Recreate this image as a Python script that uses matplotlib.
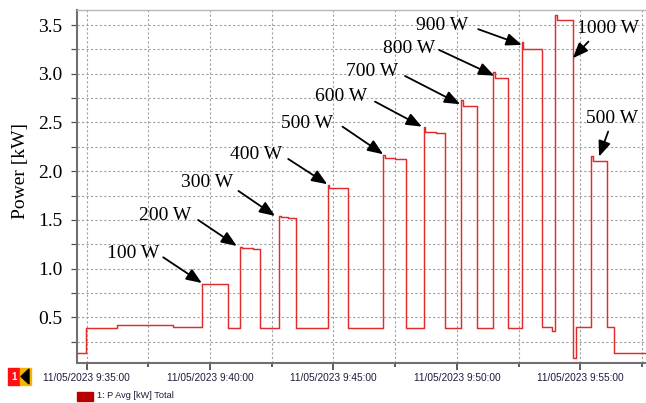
import matplotlib
matplotlib.use('Agg')
import matplotlib.pyplot as plt
import matplotlib.dates as mdates
from matplotlib.ticker import MultipleLocator, AutoMinorLocator, FuncFormatter
from matplotlib.patches import Rectangle, Polygon
import pandas as pd

day = "2023-05-11 "

# 1: P Avg [kW] Total -- step changes
times = ["09:34:30", "09:34:58", "09:36:14", "09:38:30",
         "09:39:40", "09:40:43",
         "09:41:13", "09:41:17", "09:41:45", "09:42:01",
         "09:42:48", "09:42:52", "09:43:10", "09:43:29",
         "09:44:46", "09:44:50", "09:45:35",
         "09:47:01", "09:47:05", "09:47:30", "09:47:56",
         "09:48:39", "09:48:43", "09:49:10", "09:49:31",
         "09:50:10", "09:50:14", "09:50:50",
         "09:51:29", "09:51:33", "09:52:05",
         "09:52:38", "09:52:42", "09:53:27", "09:53:52",
         "09:53:59", "09:54:03", "09:54:42", "09:54:49",
         "09:55:26", "09:55:30", "09:56:05", "09:56:21", "09:57:50"]
power = [0.13, 0.39, 0.42, 0.40,
         0.845, 0.39,
         1.22, 1.21, 1.20, 0.39,
         1.54, 1.53, 1.515, 0.39,
         1.86, 1.83, 0.39,
         2.17, 2.13, 2.12, 0.39,
         2.45, 2.40, 2.39, 0.39,
         2.73, 2.665, 0.39,
         3.02, 2.955, 0.39,
         3.33, 3.255, 0.40, 0.36,
         3.60, 3.55, 0.08, 0.40,
         2.16, 2.10, 0.40, 0.13, 0.13]

# annotations: label, text centre, arrow tail, arrow tip
labels = ["100 W", "200 W", "300 W", "400 W", "500 W", "600 W",
          "700 W", "800 W", "900 W", "1000 W", "500 W"]
label_t = ["09:36:53", "09:38:10", "09:39:52", "09:41:51", "09:43:56", "09:45:18",
           "09:46:34", "09:48:03", "09:49:25", "09:56:07", "09:56:17"]
label_v = [1.157, 1.54, 1.882, 2.174, 2.49, 2.765, 3.02, 3.26, 3.50, 3.467, 2.543]
tail_t = ["09:38:06", "09:39:31", "09:41:09", "09:43:10", "09:45:22", "09:46:41",
          "09:47:54", "09:49:17", "09:50:52", "09:55:20", "09:56:08"]
tail_v = [1.116, 1.499, 1.797, 2.125, 2.457, 2.714, 2.977, 3.244, 3.457, 3.33, 2.406]
tip_t = ["09:39:40", "09:41:05", "09:42:38", "09:44:45", "09:47:01", "09:48:35",
         "09:50:08", "09:51:31", "09:52:38", "09:54:42", "09:55:46"]
tip_v = [0.852, 1.232, 1.54, 1.866, 2.173, 2.457, 2.687, 2.98, 3.296, 3.159, 2.149]


def ts(t):
    return pd.to_datetime(day + t)


x = pd.to_datetime([day + t for t in times])

fig = plt.figure(figsize=(6.46, 4.03), dpi=100)
ax = fig.add_axes([76.7 / 646, 1 - 362.5 / 403, 1 - 76.7 / 646, (362.5 - 10) / 403])

ax.plot(x, power, drawstyle='steps-post', color='#e02c2c', lw=1.05, zorder=3)

for lab, lt, lv, at, av, pt, pv in zip(labels, label_t, label_v, tail_t, tail_v, tip_t, tip_v):
    ax.text(ts(lt), lv, lab, ha='center', va='center', fontsize=14,
            family='Liberation Serif', zorder=5)
    ax.annotate('', xy=(ts(pt), pv), xytext=(ts(at), av),
                arrowprops=dict(arrowstyle='-|>,head_length=0.55,head_width=0.22',
                                mutation_scale=17, lw=1.3, color='black',
                                shrinkA=0, shrinkB=0), zorder=5)

ax.set_xlim(ts("09:34:35.7"), ts("09:57:40"))
ax.set_ylim(0.036, 3.654)

ax.xaxis.set_major_locator(mdates.MinuteLocator(byminute=range(0, 60, 5)))
ax.xaxis.set_minor_locator(AutoMinorLocator(2))


def fmt(v, pos):
    d = mdates.num2date(v)
    return d.strftime('%d/%m/%Y ') + str(d.hour) + d.strftime(':%M:%S')


ax.xaxis.set_major_formatter(FuncFormatter(fmt))
ax.yaxis.set_major_locator(MultipleLocator(0.5))
ax.yaxis.set_minor_locator(MultipleLocator(0.25))
ax.yaxis.set_major_formatter(FuncFormatter(lambda v, p: f"{v:.1f}"))

grid_kw = dict(color='#a0a0a0', linestyle=(0, (2, 2)), lw=0.8)
ax.grid(True, which='both', **grid_kw)

ax.tick_params(axis='x', which='major', direction='out', length=5, width=1.2,
               color='#404040', pad=2.5, labelsize=7.3, labelcolor='#1c1c3c')
ax.tick_params(axis='x', which='minor', direction='out', length=3, width=1.2, color='#404040')
ax.tick_params(axis='y', which='both', direction='out', length=4, width=0.9,
               color='#505050', pad=6.3, labelsize=14)
for lab in ax.get_xticklabels():
    lab.set_family('Liberation Sans')
for lab in ax.get_yticklabels():
    lab.set_family('Liberation Serif')

ax.set_ylabel('Power [kW]', fontsize=14, family='Liberation Serif')
ax.yaxis.set_label_coords(-0.083, 0.543)

for s in ('left', 'bottom'):
    ax.spines[s].set_color('#707070')
    ax.spines[s].set_linewidth(1.5)
ax.spines['top'].set_color('#b8b8b8')
ax.spines['top'].set_linewidth(1.0)
ax.spines['right'].set_visible(False)

# channel marker and legend below the axis
W, H = 646, 403
fig.patches.append(Rectangle((8 / W, 1 - 385 / H), 12 / W, 17 / H, color='#ff1010',
                             transform=fig.transFigure, figure=fig))
fig.patches.append(Rectangle((20 / W, 1 - 385 / H), 11 / W, 17 / H, color='#f5b400',
                             transform=fig.transFigure, figure=fig))
fig.patches.append(Polygon([(21 / W, 1 - 376.5 / H), (29 / W, 1 - 369 / H), (29 / W, 1 - 384 / H)],
                           closed=True, color='black', transform=fig.transFigure, figure=fig))
fig.text(14 / W, 1 - 376.5 / H, '1', color='white', fontsize=7, fontweight='bold',
         ha='center', va='center', family='Liberation Sans')
fig.patches.append(Rectangle((76.7 / W, 1 - 400.7 / H), 16.6 / W, 9.2 / H, color='#b80000',
                             transform=fig.transFigure, figure=fig))
fig.text(96.7 / W, 1 - 396 / H, '1: P Avg [kW] Total', fontsize=6.6, ha='left', va='center',
         color='#1c1c3c', family='Liberation Sans')

fig.savefig('out.png', dpi=100)
